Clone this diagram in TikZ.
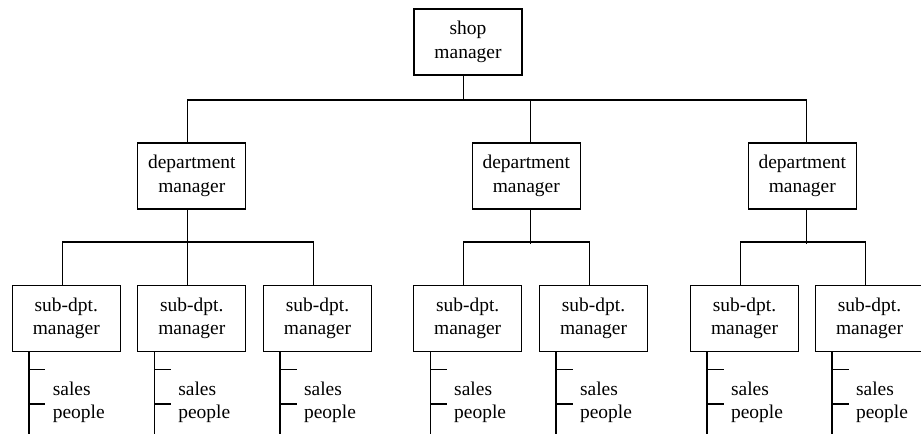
\documentclass[tikz,border=0pt]{standalone}
\usepackage{fontspec}
\setmainfont{Liberation Serif}
\begin{document}
\begin{tikzpicture}[x=0.75pt, y=-0.75pt, line width=1pt,
    orgbox/.style={draw, minimum width=81pt, minimum height=49.5pt, inner sep=0pt, align=center, font=\fontsize{14.6}{17.5}\selectfont},
    salestext/.style={anchor=west, inner sep=0pt, align=left, font=\fontsize{14.6}{17.5}\selectfont}]
    \useasboundingbox (0,0) rectangle (921,434);
    % boxes
    \node[orgbox] (shop) at (468,42) {shop\\manager};
    \foreach \n/\x in {1/191.8,2/526.3,3/802.3}
        \node[orgbox] (dept\n) at (\x,176) {department\\manager};
    \foreach \n/\x in {1/66.3,2/191.8,3/317.5,4/467.7,5/593.5,6/744.5,7/869.5} {
        \node[orgbox] (sub\n) at (\x,318.5) {sub-dpt.\\manager};
        \draw ([xshift=-28.1pt]sub\n.south) -- ++(0,84);
        \draw ([xshift=-28.1pt]sub\n.south) ++(0,17.3) -- ++(16.6,0) ++(-16.6,34.4) -- ++(16.6,0);
        \node[salestext] (sales\n) at ([xshift=30.4pt,yshift=-37.5pt]sub\n.south west) {sales\\people};
    }
    % connectors
    \draw ([xshift=-3.5pt]shop.south) -- ++(0,25.5);
    \draw ([xshift=-3pt]dept1.north) -- ++(0,-42.2) -| ([xshift=3.3pt]dept3.north);
    \draw ([xshift=3.3pt]dept2.north) -- ++(0,-42.2);
    \draw ([xshift=-3pt]dept1.south) -- ([xshift=-3pt]sub2.north);
    \draw ([xshift=-3pt]sub1.north) -- ++(0,-42.7) -| ([xshift=-3pt]sub3.north);
    \draw ([xshift=3.3pt]dept2.south) -- ++(0,34.3);
    \draw ([xshift=-3pt]sub4.north) -- ++(0,-42.7) -| ([xshift=-3pt]sub5.north);
    \draw ([xshift=3.3pt]dept3.south) -- ++(0,34.3);
    \draw ([xshift=-3pt]sub6.north) -- ++(0,-42.7) -| ([xshift=-3pt]sub7.north);
\end{tikzpicture}
\end{document}
